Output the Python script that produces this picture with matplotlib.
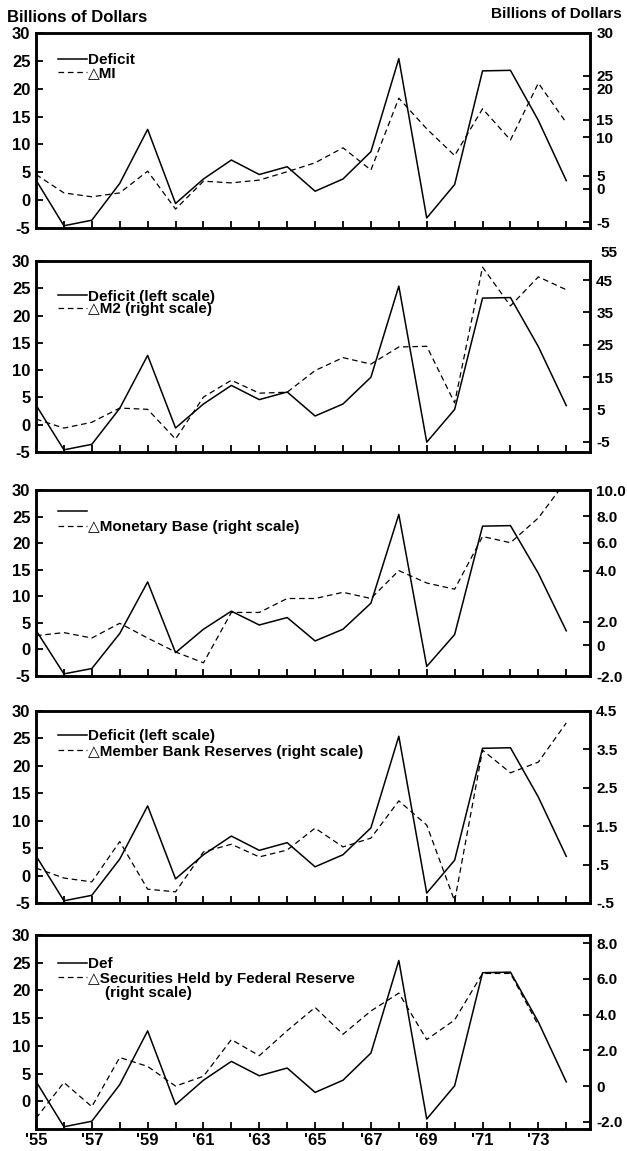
"""
Federal deficit against changes in money and reserve aggregates, 1955-74
Five stacked panels, deficit on the left scale in each one
"""

import numpy as np
import matplotlib
matplotlib.use('Agg')
import matplotlib.pyplot as plt
from matplotlib.lines import Line2D

plt.rcParams['font.family'] = ['Liberation Sans', 'DejaVu Sans']
plt.rcParams['font.weight'] = 'bold'
plt.rcParams['font.size'] = 12

LEGEND_FONT = ['Liberation Sans', 'DejaVu Sans']

# --- data (billions of dollars) ---
years = np.arange(1955, 1975)

deficit = [3.6, -4.6, -3.6, 3.0, 12.7, -0.6, 3.8, 7.2, 4.6, 6.0,
           1.6, 3.8, 8.7, 25.4, -3.2, 2.8, 23.2, 23.3, 14.3, 3.5]
delta_m1 = [4.6, 1.3, 0.6, 1.3, 5.2, -1.6, 3.4, 3.1, 3.6, 5.1,
            6.7, 9.4, 5.4, 18.3, 12.8, 8.0, 16.4, 10.8, 21.0, 13.9]
delta_m2 = [2.0, -0.8, 1.0, 5.4, 5.0, -4.2, 8.8, 14.0, 10.0, 10.3,
            17.0, 21.0, 19.0, 24.3, 24.5, 7.0, 49.0, 37.0, 46.0, 42.0]
delta_base = [0.6, 0.8, 0.45, 1.4, 0.45, -0.45, -1.15, 2.1, 2.1, 3.0,
              3.0, 3.4, 3.0, 4.8, 4.0, 3.6, 7.0, 6.6, 8.2, 10.6]
delta_reserves = [0.41, 0.15, 0.05, 1.1, -0.14, -0.21, 0.83, 1.03, 0.7, 0.88,
                  1.45, 0.96, 1.19, 2.16, 1.53, -0.45, 3.48, 2.89, 3.17, 4.19]
delta_securities = [-1.8, 0.2, -1.15, 1.6, 1.1, 0.0, 0.55, 2.6, 1.7, 3.1,
                    4.4, 2.9, 4.2, 5.2, 2.6, 3.7, 6.3, 6.3, 3.4, np.nan]

left_labels = ['-5', '0', '5', '10', '15', '20', '25', '30']
year_labels = ["'55", "'57", "'59", "'61", "'63", "'65", "'67", "'69", "'71", "'73"]

m1_right_labels = ['30', '25', '20', '15', '10', '5', '0', '-5']
m2_right_labels = ['-5', '5', '15', '25', '35', '45']
base_right_labels = ['10.0', '8.0', '6.0', '4.0', '2.0', '0', '-2.0']
res_right_labels = ['-.5', '.5', '1.5', '2.5', '3.5', '4.5']
sec_right_labels = ['-2.0', '0', '2.0', '4.0', '6.0', '8.0']

# panel boxes in pixels (top, bottom) on a 627 x 1151 canvas
W, H = 627, 1151
BOX_LEFT, BOX_RIGHT = 36, 590
PANELS_PX = [(33, 228), (261, 452), (490, 676), (711, 903), (935, 1129)]
RIGHT_SIZE = 11


def make_axes(fig, top, bottom):
    ax = fig.add_axes([BOX_LEFT / W, 1 - bottom / H,
                       (BOX_RIGHT - BOX_LEFT) / W, (bottom - top) / H])
    ax.set_xlim(1955, 1974.85)
    ax.set_xticks(years)
    ax.set_xticklabels([])
    for s in ax.spines.values():
        s.set_linewidth(1.8)
    ax.tick_params(axis='both', direction='in', length=5, width=1.3,
                   labelsize=12, pad=4)
    ax.tick_params(axis='x', top=False)
    return ax


def style_twin(ax2):
    for s in ax2.spines.values():
        s.set_linewidth(1.8)
    ax2.tick_params(axis='y', direction='in', length=5, width=1.3,
                    labelsize=RIGHT_SIZE, pad=4.5)


def add_legend(ax, handles, labels, y_top, spacing):
    leg = ax.legend(handles, labels, loc='upper left',
                    bbox_to_anchor=(0.04, y_top), frameon=False,
                    handlelength=1.9, handletextpad=0.05,
                    borderpad=0, borderaxespad=0, labelspacing=spacing,
                    prop={'family': LEGEND_FONT, 'weight': 'bold', 'size': 11})
    return leg


def main():
    fig = plt.figure(figsize=(W / 100, H / 100), dpi=100)
    solid = dict(color='black', lw=1.1)
    dashed = dict(color='black', lw=0.9, ls=(0, (4.5, 3)))
    h_solid = Line2D([], [], **solid)
    h_dash = Line2D([], [], **dashed)
    h_none = Line2D([], [], lw=0)

    axes = [make_axes(fig, t, b) for t, b in PANELS_PX]

    # left scale, shared by all panels
    for i, ax in enumerate(axes):
        ax.set_ylim(-5, 30)
        ax.plot(years, deficit, **solid)
        if i < 4:
            ax.set_yticks(np.arange(-5, 31, 5))
            ax.set_yticklabels(left_labels)
        else:
            ax.set_yticks(np.arange(0, 31, 5))
            ax.set_yticklabels(left_labels[1:])

    # panel 1: M1 on the same scale (right labels sit unevenly in the original)
    ax = axes[0]
    ax.plot(years, delta_m1, **dashed)
    ax2 = ax.twinx()
    ax2.set_ylim(-5, 30)
    ax2.set_yticks([30, 22.3, 20, 14.4, 11.3, 4.4, 2.0, -4.0])
    ax2.set_yticklabels(m1_right_labels)
    style_twin(ax2)
    add_legend(ax, [h_solid, h_dash], ['Deficit', '\u25b3MI'], 0.895, -0.1)

    # panel 2: M2
    ax = axes[1]
    ax2 = ax.twinx()
    ax2.set_ylim(-8.2, 50.9)
    ax2.plot(years, delta_m2, **dashed)
    ax2.set_yticks([-5, 5, 15, 25, 35, 45])
    ax2.set_yticklabels(m2_right_labels)
    style_twin(ax2)
    ax2.text(1.0 + 10 / (BOX_RIGHT - BOX_LEFT), 1.04, '55', transform=ax2.transAxes,
             fontsize=RIGHT_SIZE, ha='left', va='center')
    add_legend(ax, [h_solid, h_dash],
               ['Deficit (left scale)', '\u25b3M2 (right scale)'], 0.85, -0.1)

    # panel 3: monetary base
    ax = axes[2]
    ax2 = ax.twinx()
    ax2.set_ylim(-2, 10)
    ax2.plot(years, delta_base, **dashed)
    ax2.set_yticks([10, 8.3, 6.6, 4.8, 1.5, 0, -2])
    ax2.set_yticklabels(base_right_labels)
    style_twin(ax2)
    add_legend(ax, [h_solid, h_dash],
               ['', '\u25b3Monetary Base (right scale)'], 0.92, 0.1)

    # panel 4: member bank reserves
    ax = axes[3]
    ax2 = ax.twinx()
    ax2.set_ylim(-0.5, 4.5)
    ax2.plot(years, delta_reserves, **dashed)
    ax2.set_yticks([-0.5, 0.5, 1.5, 2.5, 3.5, 4.5])
    ax2.set_yticklabels(res_right_labels)
    style_twin(ax2)
    add_legend(ax, [h_solid, h_dash],
               ['Deficit (left scale)', '\u25b3Member Bank Reserves (right scale)'],
               0.905, 0.1)

    # panel 5: securities held by the Fed
    ax = axes[4]
    ax2 = ax.twinx()
    ax2.set_ylim(-2.4, 8.45)
    ax2.plot(years, delta_securities, **dashed)
    ax2.set_yticks([-2, 0, 2, 4, 6, 8])
    ax2.set_yticklabels(sec_right_labels)
    style_twin(ax2)
    add_legend(ax, [h_solid, h_dash, h_none],
               ['Def', '\u25b3Securities Held by Federal Reserve', '    (right scale)'],
               0.885, 0.02)
    ax.set_xticklabels([year_labels[(y - 1955) // 2] if (y - 1955) % 2 == 0 else ''
                        for y in years])
    ax.tick_params(axis='x', labelsize=12, pad=3)

    fig.text(7 / W, 1 - 17 / H, 'Billions of Dollars', fontsize=12,
             ha='left', va='center')
    fig.text(622 / W, 1 - 14 / H, 'Billions of Dollars', fontsize=11,
             ha='right', va='center')

    fig.savefig('out.png', dpi=100)
    plt.close(fig)


if __name__ == "__main__":
    main()
